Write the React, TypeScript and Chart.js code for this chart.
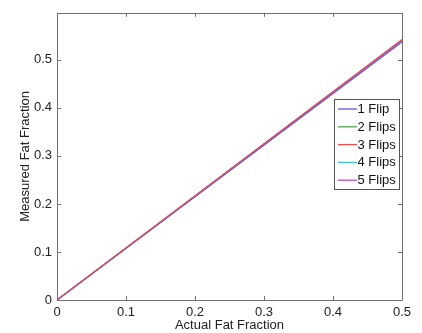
import React, { useEffect, useRef } from "react";
import { Chart, registerables } from "chart.js";

Chart.register(...registerables);

const xValues = [0, 0.5];
const seriesNames = ["1 Flip", "2 Flips", "3 Flips", "4 Flips", "5 Flips"];
const flip1 = [0, 0.537];
const flip2 = [0, 0.541];
const flip3 = [0, 0.5425];
const flip4 = [0, 0.541];
const flip5 = [0, 0.541];
const seriesValues = [flip1, flip2, flip3, flip4, flip5];
const seriesColors = ["#5a5ae8", "#4ea04e", "#e85050", "#40c4c8", "#b850b8"];
const xTicks = [0, 0.1, 0.2, 0.3, 0.4, 0.5];
const yTicks = [0, 0.1, 0.2, 0.3, 0.4, 0.5];

const FONT = "'Liberation Sans', Arial, Helvetica, sans-serif";
const AXIS = "#707070";

const boxPlugin = {
  id: "matlabBox",
  afterDatasetsDraw(chart: any) {
    const { ctx, chartArea: a, scales } = chart;
    ctx.save();
    ctx.strokeStyle = AXIS;
    ctx.lineWidth = 1;
    ctx.beginPath();
    ctx.rect(Math.round(a.left) + 0.5, Math.round(a.top) + 0.5, Math.round(a.right - a.left), Math.round(a.bottom - a.top));
    ctx.stroke();
    const tl = 4;
    ctx.beginPath();
    for (const v of xTicks) {
      const x = Math.round(scales.x.getPixelForValue(v)) + 0.5;
      ctx.moveTo(x, a.bottom);
      ctx.lineTo(x, a.bottom - tl);
      ctx.moveTo(x, a.top);
      ctx.lineTo(x, a.top + tl);
    }
    for (const v of yTicks) {
      const y = Math.round(scales.y.getPixelForValue(v)) + 0.5;
      ctx.moveTo(a.left, y);
      ctx.lineTo(a.left + tl, y);
      ctx.moveTo(a.right, y);
      ctx.lineTo(a.right - tl, y);
    }
    ctx.stroke();

    // legend box
    const lx = 334.5, ly = 99.5, lw = 65, lh = 90;
    ctx.fillStyle = "#ffffff";
    ctx.fillRect(lx, ly, lw, lh);
    ctx.strokeStyle = "#555555";
    ctx.strokeRect(lx, ly, lw, lh);
    ctx.font = `13px ${FONT}`;
    ctx.textBaseline = "middle";
    ctx.textAlign = "left";
    chart.data.datasets.forEach((ds: any, i: number) => {
      const y = 109 + i * 17.8;
      ctx.strokeStyle = String(ds.borderColor);
      ctx.lineWidth = 1.3;
      ctx.beginPath();
      ctx.moveTo(338, y);
      ctx.lineTo(357, y);
      ctx.stroke();
      ctx.fillStyle = "#111111";
      ctx.fillText(ds.label, 357.5, y + 0.5);
    });
    ctx.restore();
  },
};

export default function App() {
  const ref = useRef<HTMLCanvasElement>(null);
  useEffect(() => {
    document.body.style.margin = "0";
    const datasets = seriesNames.map((name, i) => ({
      label: name,
      data: xValues.map((x, j) => ({ x, y: seriesValues[i][j] })),
      borderColor: seriesColors[i],
      backgroundColor: seriesColors[i],
      borderWidth: 1.2,
      pointRadius: 0,
      fill: false,
      tension: 0,
      order: i === 2 ? 0 : i === 0 ? 1 : 5 - i + 2,
    }));
    const chart = new Chart(ref.current as HTMLCanvasElement, {
      type: "line",
      data: { datasets },
      options: {
        animation: false,
        responsive: false,
        maintainAspectRatio: false,
        layout: { padding: { left: 0, top: 10, right: 20, bottom: 0 } },
        plugins: { legend: { display: false }, tooltip: { enabled: false } },
        scales: {
          x: {
            type: "linear",
            min: 0,
            max: 0.5,
            afterFit: (s: any) => { s.height = 33; },
            afterBuildTicks: (s: any) => { s.ticks = xTicks.map((v) => ({ value: v })); },
            grid: { display: false, drawTicks: false },
            border: { display: false },
            ticks: {
              padding: 5,
              color: "#222",
              font: { family: FONT, size: 13 },
              callback: (v: any) => String(v),
              maxRotation: 0,
            },
            title: {
              display: true,
              text: "Actual Fat Fraction",
              color: "#222",
              font: { family: FONT, size: 13 },
              padding: { top: 0, bottom: 0 },
            },
          },
          y: {
            type: "linear",
            min: 0,
            max: 0.598,
            afterFit: (s: any) => { s.width = 57; },
            afterBuildTicks: (s: any) => { s.ticks = yTicks.map((v) => ({ value: v })); },
            grid: { display: false, drawTicks: false },
            border: { display: false },
            ticks: {
              padding: 5,
              color: "#222",
              font: { family: FONT, size: 13 },
              callback: (v: any) => String(v),
            },
            title: {
              display: true,
              text: "Measured Fat Fraction",
              color: "#222",
              font: { family: FONT, size: 13 },
              padding: { top: 18, bottom: 0 },
            },
          },
        },
      },
      plugins: [boxPlugin],
    });
    return () => chart.destroy();
  }, []);
  return (
    <div style={{ position: "fixed", left: 0, top: 0, width: 422, height: 333, background: "#fff" }}>
      <canvas ref={ref} width={422} height={333} style={{ width: 422, height: 333 }} />
    </div>
  );
}
